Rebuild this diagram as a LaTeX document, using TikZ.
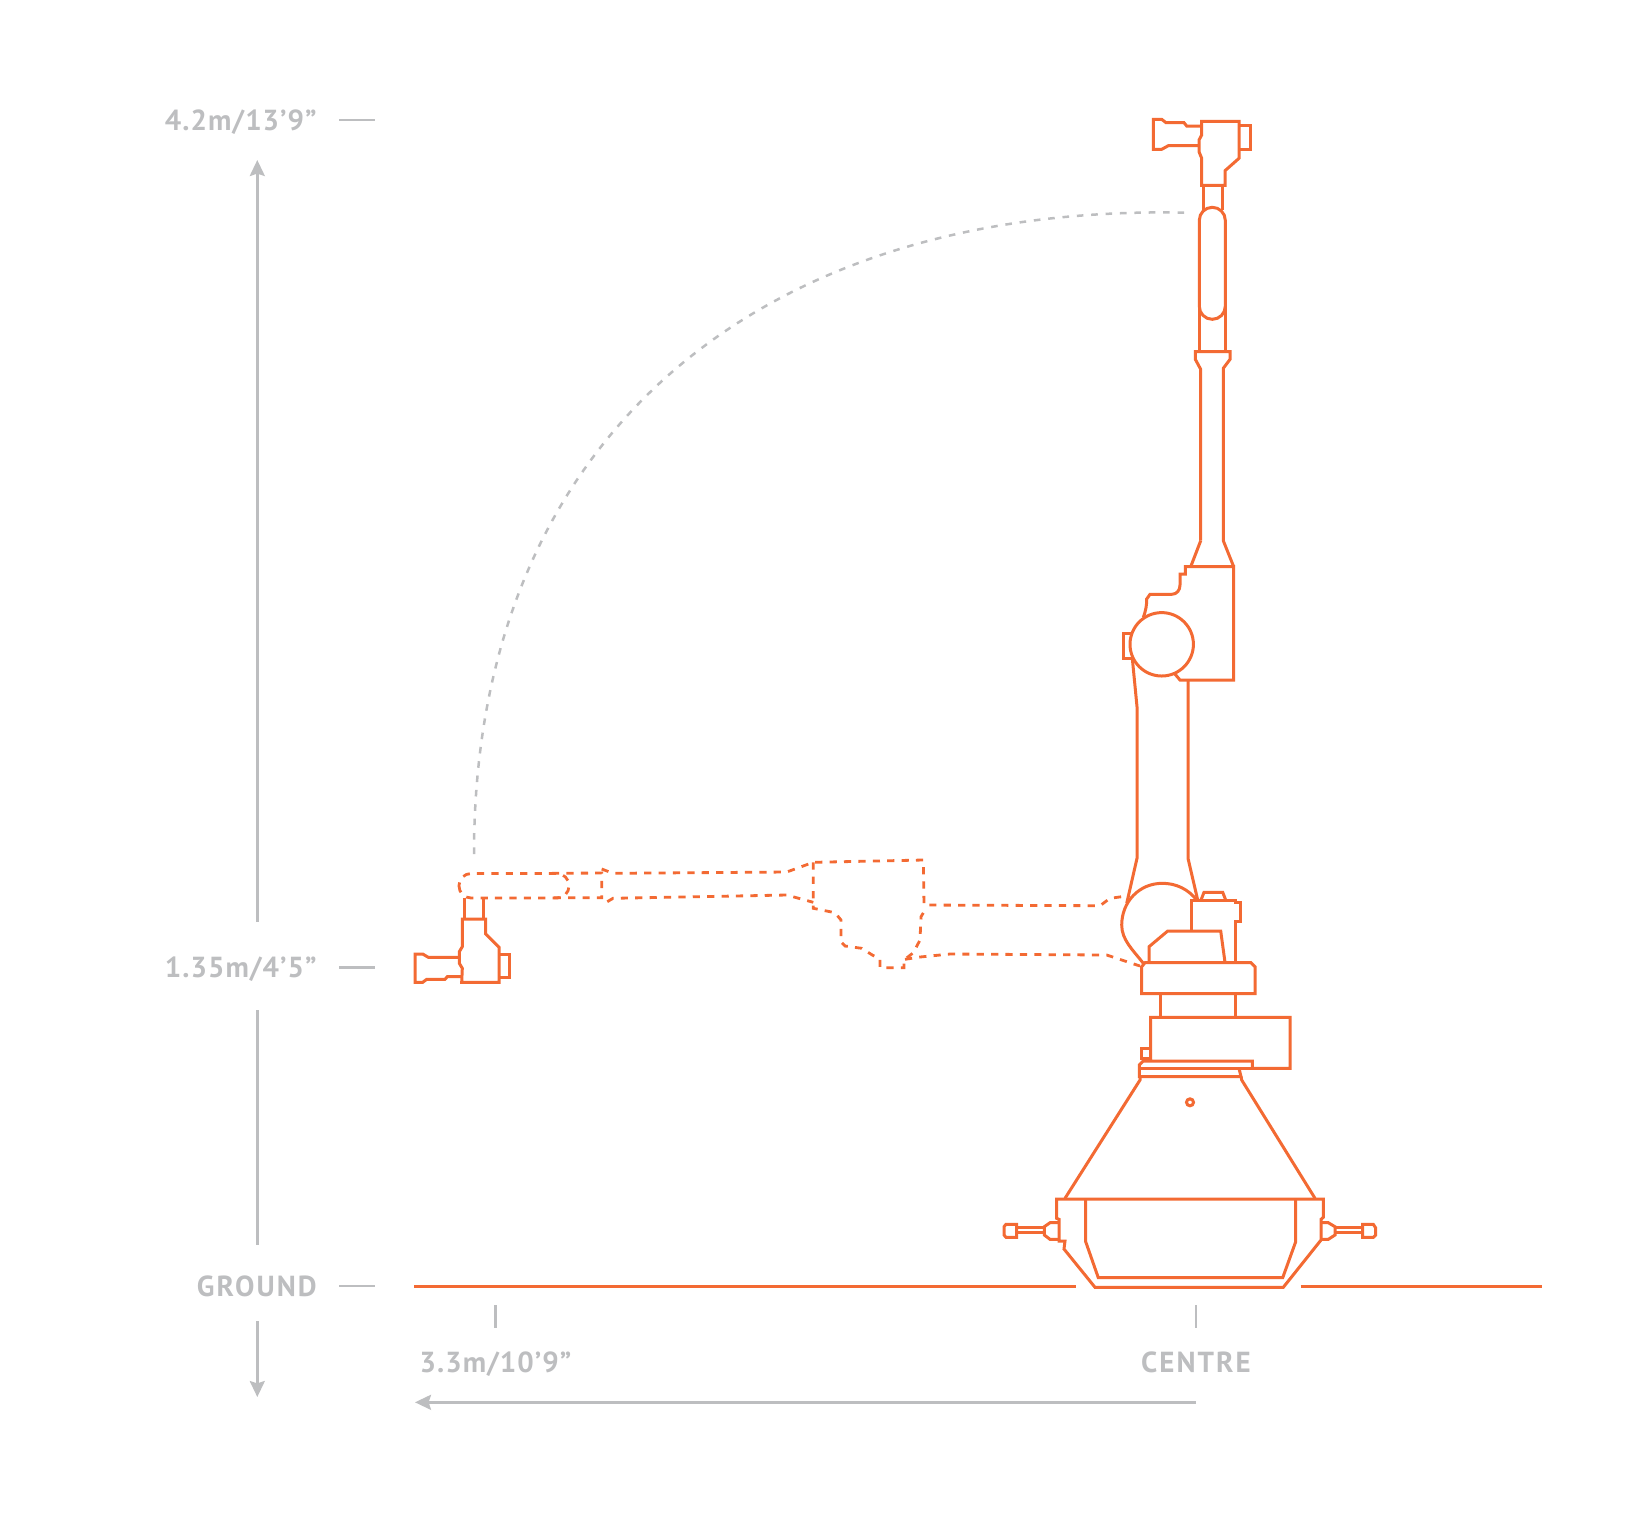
\documentclass[tikz,border=0pt]{standalone}
\usepackage{fontspec}
\usetikzlibrary{arrows.meta}
\newfontfamily\dimfont[LetterSpace=7]{PT Sans}
\newfontfamily\dimnumfont[LetterSpace=3.5]{PT Sans}
\definecolor{armorange}{HTML}{F36A33}
\definecolor{dimgrey}{HTML}{BDBEC0}
\tikzset{
	armline/.style={draw=armorange,line width=1.5pt,line join=miter},
	armdash/.style={draw=armorange,line width=1.4pt,dash pattern=on 3.6pt off 3.6pt},
	swingdash/.style={draw=dimgrey,line width=1.25pt,dash pattern=on 3.3pt off 3.9pt},
	dimline/.style={draw=dimgrey,line width=1.3pt},
	dimarrow/.style={dimline,-{Stealth[length=8pt,width=7.5pt,inset=1.2pt]}},
	dimtext/.style={text=dimgrey,font=\dimfont\bfseries\fontsize{14.5}{14.5}\selectfont,inner sep=0pt},
	dimnum/.style={text=dimgrey,font=\dimnumfont\bfseries\fontsize{14.5}{14.5}\selectfont,inner sep=0pt}
}
\begin{document}
\begin{tikzpicture}[x=0.5pt,y=-0.5pt]
	\useasboundingbox (0,0) rectangle (1628,1523);
	\node[dimnum,anchor=base east] (toplabel) at (317,130) {4.2m/13’9”};
	\node[dimnum,anchor=base east] (midlabel) at (317,977) {1.35m/4’5”};
	\node[dimtext,anchor=base east] (groundlabel) at (317,1296) {GROUND};
	\node[dimnum,anchor=base] (reachlabel) at (495.5,1372) {3.3m/10’9”};
	\node[dimtext,anchor=base] (centrelabel) at (1196,1372) {CENTRE};
	\coordinate (topa) at (339,120); \coordinate (topb) at (375,120);
	\coordinate (mida) at (339,967.5); \coordinate (midb) at (375,967.5);
	\coordinate (grounda) at (339,1286); \coordinate (groundb) at (375,1286);
	\coordinate (reacha) at (495.3,1305); \coordinate (reachb) at (495.3,1328);
	\coordinate (centrea) at (1196,1305); \coordinate (centreb) at (1196,1328);
	\coordinate (upa) at (257.3,922); \coordinate (upb) at (257.3,160);
	\coordinate (spana) at (257.3,1010); \coordinate (spanb) at (257.3,1245);
	\coordinate (downa) at (257.3,1321); \coordinate (downb) at (257.3,1397);
	\coordinate (lefta) at (1196,1402.3); \coordinate (leftb) at (415,1402.3);
	\draw[dimline] (topa)--(topb) (mida)--(midb) (grounda)--(groundb) (reacha)--(reachb) (centrea)--(centreb) (spana)--(spanb);
	\draw[dimarrow] (upa)--(upb);
	\draw[dimarrow] (downa)--(downb);
	\draw[dimarrow] (lefta)--(leftb);
	\coordinate (swinga) at (474,854); \coordinate (swingb) at (1188,212.7);
	\draw[swingdash] (swinga) .. controls (474,437) and (760,203) .. (swingb);
	\draw[armline] (414,1286.7)--(1076,1286.7) (1300.7,1286.7)--(1542,1286.7);
	% raised arm
	\draw[armline] (1201.7,126)--(1186.7,126)--(1184,122.7)--(1166,122.7)--(1161.7,119.3)--(1153.3,119.3)--(1153.3,149.3)--(1161.7,149.3)--(1168.3,145.7)--(1199,145.7);
	\draw[armline] (1201.7,121.3)--(1239,121.3)--(1239,158.3)--(1225,170.7)--(1225,185.3)--(1201.7,185.3)--(1201.7,158.3)--(1199,151.7)--(1199,140)--(1201.7,135)--cycle;
	\draw[armline] (1239,125.7)--(1250.3,125.7)--(1250.3,149.3)--(1239,149.3);
	\draw[armline] (1203.3,185.3)--(1203.3,210) (1222.3,185.3)--(1222.3,210);
	\draw[armline,rounded corners=6.5pt] (1199.3,207.3) rectangle (1225.3,319.3);
	\draw[armline] (1199.3,307)--(1199.3,351.7) (1225.3,307)--(1225.3,351.7);
	\draw[armline] (1200.7,540.7)--(1200.7,369.3)--(1195.3,359.3)--(1195.3,351.7)--(1230,351.7)--(1230,359.3)--(1223.3,368.3)--(1223.3,540.7)--(1233.7,566.7);
	\draw[armline] (1200.7,540.7)--(1190.7,566.7);
	\draw[armline] (1143.3,617.3) .. controls (1146,610) and (1146.7,605) .. (1146.7,599)--(1150,594.3)--(1171.7,594.3) .. controls (1177,594.3) and (1180,590) .. (1180,585)--(1180,574)--(1185.3,574)--(1185.3,566.7)--(1233.7,566.7)--(1233.7,680)--(1180,680)--(1174.3,673.3);
	\draw[armline] (1161.7,644.3) circle (31.7);
	\draw[armline] (1131.7,633.3)--(1123.3,633.3)--(1123.3,658.3)--(1131.7,658.3);
	\draw[armline] (1132.3,658.3)--(1137,706.7)--(1137,858.3)--(1126.7,903.3);
	\draw[armline] (1188,680)--(1188,858.3)--(1197.7,900);
	\draw[armline] (1196.7,900) .. controls (1188,889) and (1176,883.3) .. (1162.3,883.3) .. controls (1139,883.3) and (1121.7,902) .. (1121.7,925) .. controls (1121.7,940) and (1133,950) .. (1143.3,963.3);
	\draw[armline] (1191.7,931)--(1191.7,900)--(1235.7,900)--(1235.7,902.7)--(1240,902.7)--(1240,921.7)--(1235,921.7)--(1235,962.3);
	\draw[armline] (1201,900)--(1204,892.3)--(1222.7,892.3)--(1225.7,900);
	\draw[armline] (1149,962.3)--(1149,946.7)--(1167.7,931)--(1220.7,931)--(1225,962.3);
	\draw[armline] (1145,962.7)--(1251,962.7)--(1255,966.7)--(1255,993.7)--(1141.7,993.7)--(1141.7,966.7)--cycle;
	\draw[armline] (1160.7,993.7)--(1160.7,1017.3) (1235,993.7)--(1235,1017.3);
	\draw[armline] (1150.7,1060.7)--(1150.7,1017.3)--(1290,1017.3)--(1290,1068.3)--(1252.3,1068.3)--(1252.3,1061)--(1143.3,1061)--(1139.3,1065)--(1139.3,1076.7)--(1241,1076.7)--(1239,1068.3);
	\draw[armline] (1139.7,1068.3)--(1252.3,1068.3);
	\draw[armline] (1141.7,1048.3)--(1150.7,1048.3)--(1150.7,1058.3)--(1141.7,1058.3)--cycle;
	% base
	\draw[armline] (1140,1076.7)--(1140,1080)--(1065,1198.3) (1241,1076.7)--(1241.7,1080)--(1315,1198.3);
	\draw[armline] (1190,1102.3) circle (3.5);
	\draw[armline] (1056.7,1199)--(1323.3,1199)--(1323.3,1217.3)--(1321,1219.3)--(1321,1240)--(1283.3,1287.3)--(1095,1287.3)--(1064,1249)--(1065,1241)--(1059,1241)--(1059,1219.3)--(1056.7,1218.3)--cycle;
	\draw[armline] (1085.7,1199)--(1085.7,1241.7)--(1098.3,1277.7)--(1282.7,1277.7)--(1295.7,1241.7)--(1295.7,1199);
	\draw[armline] (1058.3,1222.7)--(1050,1222.7)--(1044.3,1226.7)--(1044.3,1235)--(1050,1239.3)--(1058.3,1239.3);
	\draw[armline] (1044.3,1227.7)--(1016.7,1227.7) (1044.3,1232.3)--(1016.7,1232.3);
	\draw[armline] (1006,1224.3)--(1016.7,1224.3)--(1016.7,1237.3)--(1006,1237.3)--(1004,1235)--(1004,1226.7)--cycle;
	\draw[armline] (1321,1222.7)--(1328.3,1222.7)--(1335,1226.7)--(1335,1235)--(1328.3,1239.3)--(1321,1239.3);
	\draw[armline] (1335,1227.7)--(1362.7,1227.7) (1335,1232.3)--(1362.7,1232.3);
	\draw[armline] (1362.7,1224.3)--(1373.3,1224.3)--(1375.7,1228)--(1375.7,1235)--(1373.3,1237.3)--(1362.7,1237.3)--cycle;
	% lowered arm
	\draw[armdash,rounded corners=6pt] (459,873.5) rectangle (569,898);
	\draw[armdash] (552,873.3)--(601.7,873)--(601.7,897.7)--(552,897.7) (601.7,869)--(613,873.3)--(786.7,872)--(813.3,862.3)--(923.3,860)--(924,905)--(1100,905.7)--(1110,898.3)--(1126.7,896);
	\draw[armdash] (607.3,901.7)--(613,898.3)--(786.7,895)--(813.3,902.3);
	\draw[armdash] (813.3,862.3)--(813.3,908.3)--(835,912.7)--(841,920)--(841,941.7)--(845,946)--(861.7,948.3)--(872.3,955)--(880,959)--(880,967.7)--(904,967.7)--(904,960)--(913.3,952.7)--(920,940)--(921,916.7)--(924,911.7);
	\draw[armdash] (905,959.3)--(920,957)--(950,954)--(1106.7,955)--(1140,966);
	\draw[armline] (464,898.3)--(464,918.3) (483.3,898.3)--(483.3,918.3);
	\draw[armline] (462.3,919)--(485.7,919)--(485.7,934)--(499,947.3)--(499,982.3)--(461.7,982.3)--(462.3,968.3)--(459.3,963.3)--(459.3,951.7)--(462.3,946.7)--cycle;
	\draw[armline] (499,954.3)--(509.3,954.3)--(509.3,977.7)--(499,977.7);
	\draw[armline] (459.3,957.3)--(428.3,957.3)--(422.7,954)--(415,954)--(415,982.3)--(422.7,982.3)--(426.7,979.3)--(445,979.3)--(447.3,976.7)--(462.3,976.7);
\end{tikzpicture}
\end{document}
